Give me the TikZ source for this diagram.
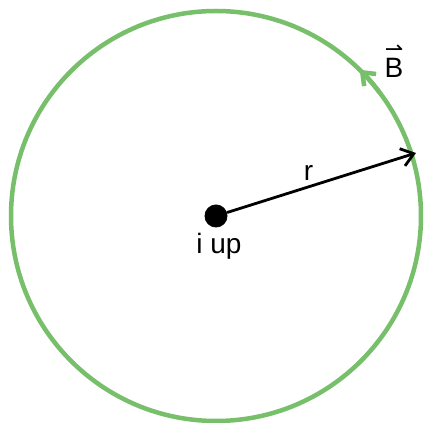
\documentclass[tikz,border=0pt]{standalone}
\usepackage{fontspec}
\setmainfont{Liberation Sans}
\newfontfamily\arrowfont{DejaVu Sans}
\usetikzlibrary{arrows.meta}
\definecolor{fieldgreen}{RGB}{119,191,106}
\begin{document}
\begin{tikzpicture}[x=1pt,y=1pt,
  lbl/.style={font=\fontsize{28}{32}\selectfont, inner sep=0pt, anchor=base},
  field/.style={draw=fieldgreen, line width=4.5},
  radius arrow/.style={draw=black, line width=2.8, -{Straight Barb[length=12,width=18]}}]
\useasboundingbox (0,0) rectangle (424,423);
\coordinate (c) at (216,207);
\draw[field] (c) circle (205);
\draw[field, -{Straight Barb[length=11,width=17]}] ([shift={(37:205)}]c) arc (37:45.5:205);
\node[circle, fill=black, inner sep=0pt, minimum size=23] (dot) at (c) {};
\coordinate (rt) at (416,270);
\draw[radius arrow] (dot) -- (rt);
\node[lbl] (r) at (308.5,242) {r};
\node[lbl] (iup) at (219,169) {i up};
\node[lbl] (B) at (394,345) {\rlap{\makebox[18.7pt]{\raisebox{21pt}{\arrowfont\fontsize{22}{22}\selectfont ⇀}}}B};
\end{tikzpicture}
\end{document}
